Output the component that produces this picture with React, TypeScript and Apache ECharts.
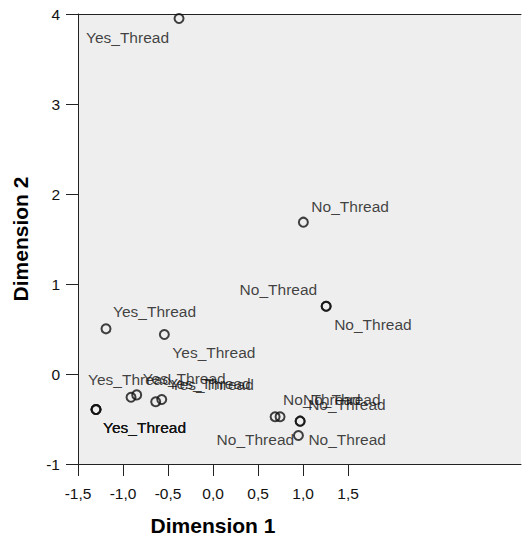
import React, { useEffect, useRef } from "react";
import * as echarts from "echarts";

// Point labels, coordinates (Dimension 1, Dimension 2)
const pointNames = [
  "Yes_Thread", "Yes_Thread", "Yes_Thread", "Yes_Thread", "Yes_Thread", "Yes_Thread",
  "Yes_Thread", "Yes_Thread", "Yes_Thread", "Yes_Thread",
  "No_Thread", "No_Thread", "No_Thread", "No_Thread", "No_Thread", "No_Thread", "No_Thread", "No_Thread",
];
const dim1 = [
  -0.378, -1.189, -0.541, -1.30, -1.30, -1.30, -0.911, -0.848, -0.637, -0.57,
  1.003, 1.256, 1.256, 0.689, 0.744, 0.967, 0.967, 0.948,
];
const dim2 = [
  3.95, 0.502, 0.439, -0.394, -0.394, -0.394, -0.258, -0.232, -0.309, -0.283,
  1.687, 0.753, 0.753, -0.475, -0.475, -0.524, -0.524, -0.683,
];
const xTickValues = [-1.5, -1.0, -0.5, 0, 0.5, 1.0, 1.5];
const xTitle = "Dimension 1";
const yTitle = "Dimension 2";

// Label placement (style only): [dx, dy, align]
const labelPlacement: [number, number, string][] = [
  [-10, 19, "right"],
  [7, -17, "left"],
  [8, 18, "left"],
  [7, 18, "left"],
  [7, 18, "left"],
  [7, 18, "left"],
  [-43, -18, "left"],
  [6, -16, "left"],
  [12, -18, "left"],
  [9, -15, "left"],
  [8, -16, "left"],
  [-9, -17, "right"],
  [8, 18, "left"],
  [8, -17, "left"],
  [23, -17, "left"],
  [8, -17, "left"],
  [-6, 18, "right"],
  [10, 4, "left"],
];

const FONT = "'Liberation Sans', Arial, sans-serif";
const AXIS_COLOR = "#222";

export default function App() {
  const ref = useRef<HTMLDivElement>(null);
  useEffect(() => {
    if (!ref.current) return;
    const chart = echarts.init(ref.current, undefined, { renderer: "svg" });
    const data = pointNames.map((n, i) => ({
      name: n,
      value: [dim1[i], dim2[i]],
      label: {
        show: true,
        position: "inside",
        align: labelPlacement[i][2],
        verticalAlign: "middle",
        offset: [labelPlacement[i][0], labelPlacement[i][1]],
        formatter: "{b}",
        color: "#111",
        fontSize: 15.5,
        fontFamily: FONT,
      },
    }));
    chart.setOption({
      animation: false,
      backgroundColor: "#fff",
      grid: {
        left: 78,
        top: 14,
        right: 1,
        bottom: 73,
        show: true,
        backgroundColor: "#eeeeee",
        borderWidth: 0,
      },
      xAxis: [
        {
          type: "value",
          min: -1.5,
          max: 3.42,
          splitLine: { show: false },
          axisLine: { onZero: false, lineStyle: { color: AXIS_COLOR, width: 1 } },
          axisTick: { customValues: xTickValues, length: 12, lineStyle: { color: AXIS_COLOR } },
          axisLabel: {
            customValues: xTickValues,
            formatter: (v: number) => v.toFixed(1).replace(".", ","),
            color: "#111",
            fontSize: 15.5,
            fontFamily: FONT,
            margin: 21,
          },
        },
        {
          type: "value",
          position: "top",
          min: -1.5,
          max: 3.42,
          splitLine: { show: false },
          axisLine: { onZero: false, lineStyle: { color: AXIS_COLOR, width: 1 } },
          axisTick: { show: false },
          axisLabel: { show: false },
        },
      ],
      yAxis: {
        type: "value",
        min: -1,
        max: 4,
        interval: 1,
        name: yTitle,
        nameLocation: "middle",
        nameRotate: 90,
        nameGap: 47,
        nameTextStyle: { fontSize: 21, fontWeight: "bold", fontFamily: FONT, color: "#000" },
        splitLine: { show: false },
        axisLine: { onZero: false, lineStyle: { color: AXIS_COLOR, width: 1 } },
        axisTick: { length: 12, lineStyle: { color: AXIS_COLOR } },
        axisLabel: { color: "#111", fontSize: 15.5, fontFamily: FONT, margin: 18 },
      },
      graphic: [
        {
          type: "text",
          x: 213,
          y: 525,
          style: {
            text: xTitle,
            align: "center",
            verticalAlign: "middle",
            font: `bold 21px ${FONT}`,
            fill: "#000",
          },
        },
      ],
      series: [
        {
          type: "scatter",
          xAxisIndex: 0,
          symbol: "circle",
          symbolSize: 9,
          itemStyle: { color: "transparent", borderColor: "#111", borderWidth: 2 },
          data,
        },
      ],
    });
    return () => chart.dispose();
  }, []);
  return <div ref={ref} style={{ width: 522, height: 537, position: "absolute", left: 0, top: 0 }} />;
}
